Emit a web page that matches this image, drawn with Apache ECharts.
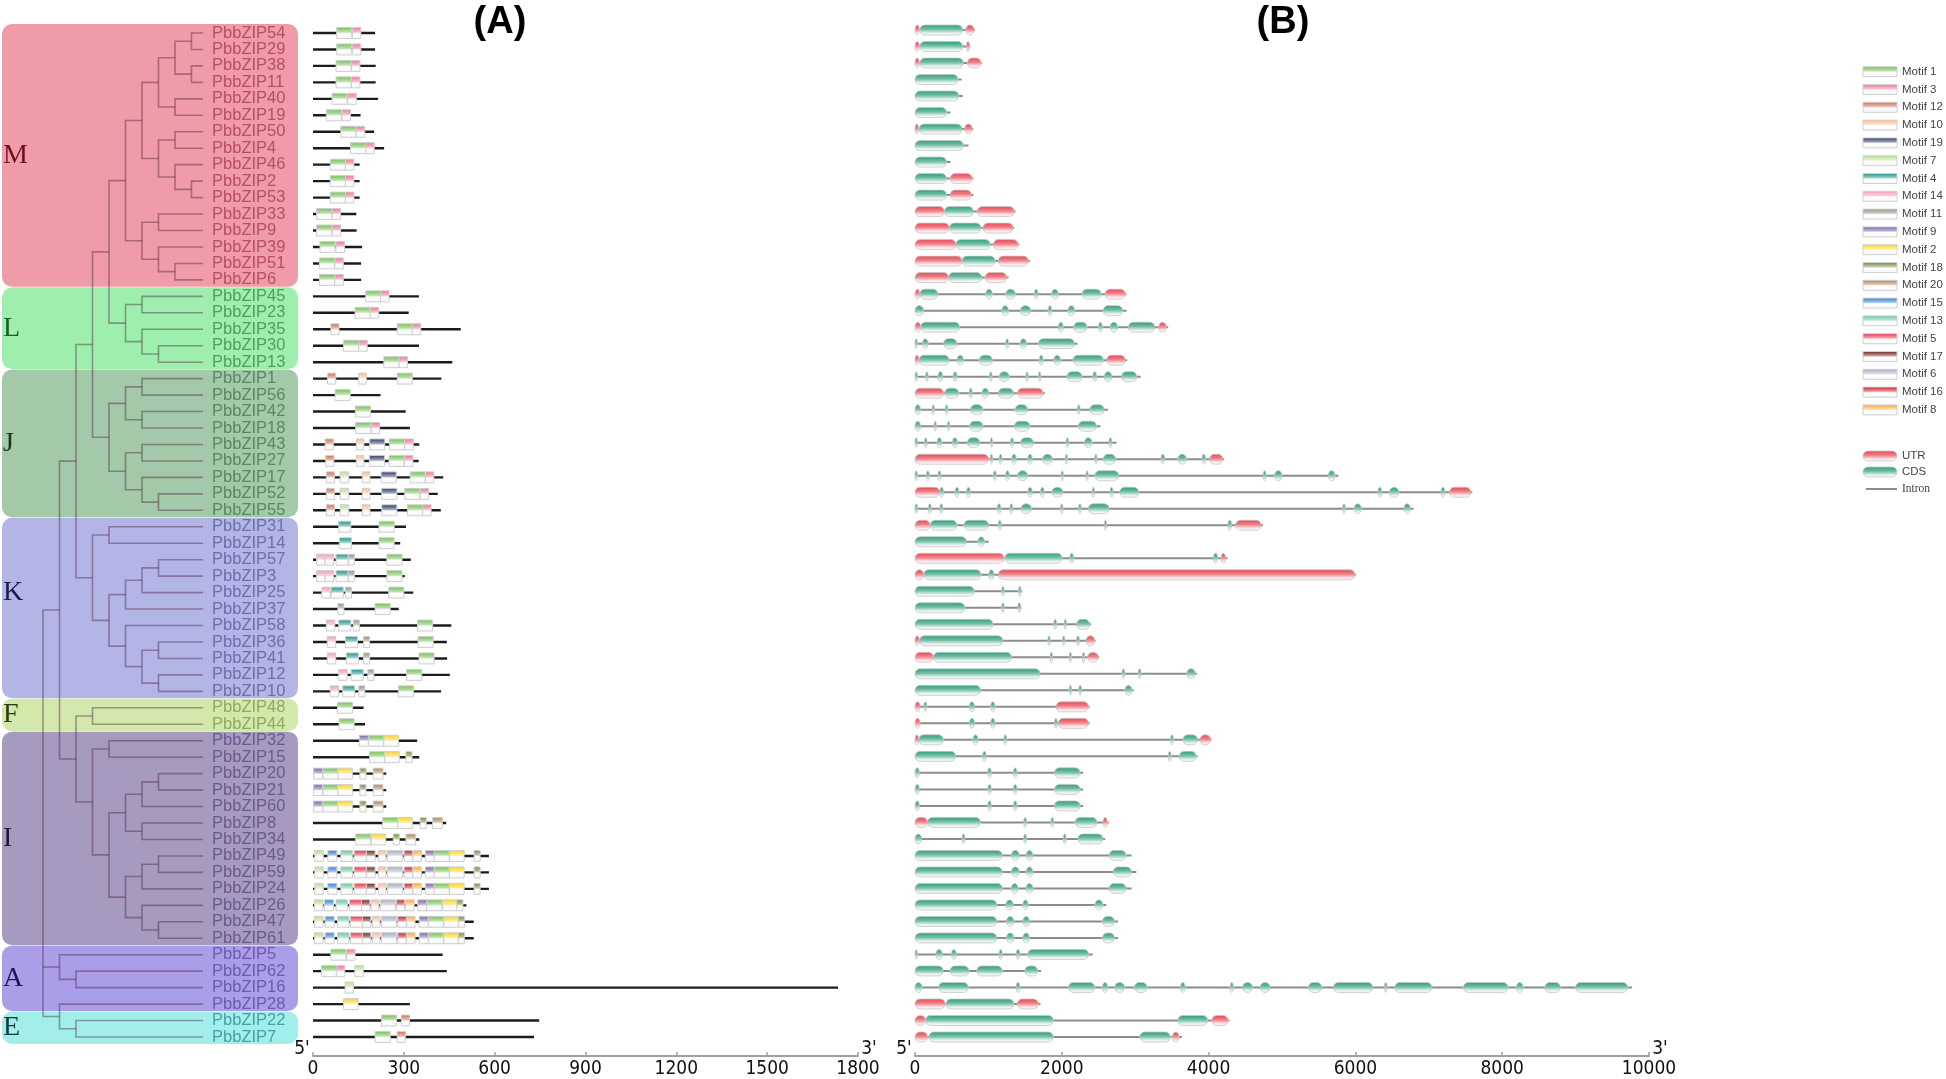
<!DOCTYPE html>
<html><head><meta charset="utf-8">
<script src="https://cdn.jsdelivr.net/npm/echarts@6/dist/echarts.min.js"></script>
<style>html,body{margin:0;padding:0;background:#fff}#c{width:1946px;height:1079px}</style>
</head><body><div id="c"></div>
<script>
// ================= DATA =================
const rowIds = [54,29,38,11,40,19,50,4,46,2,53,33,9,39,51,6, 45,23,35,30,13, 1,56,42,18,43,27,17,52,55,
  31,14,57,3,25,37,58,36,41,12,10, 48,44, 32,15,20,21,60,8,34,49,59,24,26,47,61, 5,62,16,28, 22,7];
const geneNames = rowIds.map(n => 'PbbZIP' + n);

const groupNames = ['M','L','J','K','F','I','A','E'];
const groupFirstRow = [0,16,21,30,41,43,56,60];
const groupLastRow  = [15,20,29,40,42,55,59,61];
const groupFill   = ['#f09ca8','#9eefae','#a4c9a8','#b3b5e7','#d3e8ab','#a69abf','#ab9ee8','#a1eeea'];
const groupLetter = ['#6b1020','#1c5c2c','#1c321f','#1c1c4a','#2f3d12','#1e1832','#1e1a58','#0f3a3a'];
const groupLabel  = ['#b64f60','#4e9e60','#5c8562','#6c6eaa','#8fa862','#6a5a8c','#6a5ab0','#46a2a2'];
const groupLetterShift = [0,0,0,-15,0,0,0,0];

// tree topology: [nodeDepthLevel, child, child, ...]; leaves = gene ids
const tree = [0,
 [1,
  [2,
   [3,
    [4,
     [5,
      [6,
       [7,[8,[9,54,29],[9,38,11]],[8,40,19]],
       [7,[8,50,4],[8,46,[9,2,53]]]
      ],
      [6,[7,33,9],[7,39,[8,51,6]]]
     ],
     [5,[6,45,23],[6,35,[7,30,13]]]
    ],
    [4,[5,[6,1,56],[6,42,18]],[5,[6,43,27],[6,17,[7,52,55]]]]
   ],
   [3,[4,31,14],[4,[5,[6,[7,57,3],25],37],[5,58,[6,[7,36,41],[7,12,10]]]]]
  ],
  [2,
   [3,48,44],
   [3,[4,32,15],[4,[5,[6,[7,20,21],60],[6,8,34]],[5,[6,[7,49,59],24],[6,26,[7,47,61]]]]]
  ]
 ],
 [1,5,[2,62,16]],
 [1,28,[2,22,7]]
];

// Panel A: protein lengths (aa) and motif hits [motif, start]
const proteinLength = [205,205,207,207,215,157,202,235,154,154,154,143,144,162,159,159,
  350,316,488,350,460, 424,223,306,320,351,349,430,412,422,
  307,288,323,303,331,283,457,442,443,452,423, 167,172,
  344,351,242,242,242,440,351,581,581,581,507,531,531, 428,442,1734,320, 747,730];
const motifLegend = [1,3,12,10,19,7,4,14,11,9,2,18,20,15,13,5,17,6,16,8];
const motifColor = {1:'#6cbf4c',3:'#f26d8e',12:'#d0694a',10:'#fbb98a',19:'#273560',7:'#b4e08c',4:'#12918a',
  14:'#f598b0',11:'#8a9080',9:'#7a5aa8',2:'#ffd21a',18:'#6b8a30',20:'#b08050',15:'#2a7ad8',13:'#5ec79a',
  5:'#f0283c',17:'#6a1a1a',6:'#a8a8c4',16:'#c81820',8:'#ffa830'};
const motifWidth = {1:50,2:48,3:28,4:40,5:40,6:50,7:28,8:28,9:30,10:25,11:20,12:27,13:38,14:28,15:30,16:28,17:28,18:20,19:50,20:32};
const motifI1 = [[7,6],[15,49],[13,92],[5,136],[17,177],[10,216],[6,246],[16,301],[8,330],[9,371],[1,400],[2,451],[18,532]];
const motifI2 = [[7,5],[15,40],[13,81],[5,124],[17,163],[10,196],[6,226],[16,280],[8,309],[9,351],[1,381],[2,432],[18,480]];
const motifHits = [
  [[1,78],[3,130]],[[1,78],[3,130]],[[1,76],[3,127]],[[1,76],[3,127]],[[1,63],[3,115]],[[1,44],[3,96]],
  [[1,92],[3,143]],[[1,124],[3,174]],[[1,57],[3,107]],[[1,57],[3,107]],[[1,57],[3,107]],[[1,12],[3,63]],
  [[1,12],[3,63]],[[1,23],[3,76]],[[1,21],[3,72]],[[1,21],[3,72]],
  [[1,174],[3,223]],[[1,139],[3,189]],[[12,59],[1,278],[3,328]],[[1,101],[3,151]],[[1,234],[3,284]],
  [[12,48],[10,151],[1,278]],[[1,73]],[[1,140]],[[1,141],[3,192]],
  [[12,40],[10,143],[19,187],[1,253],[3,303]],[[12,42],[10,143],[19,186],[1,251],[3,302]],
  [[12,44],[7,90],[10,163],[19,225],[1,321],[3,371]],[[12,44],[7,90],[10,163],[19,227],[1,303],[3,354]],
  [[12,44],[7,90],[10,163],[19,227],[1,312],[3,362]],
  [[4,85],[1,218]],[[4,87],[1,218]],[[14,12],[14,40],[4,76],[11,117],[1,244]],[[14,12],[14,40],[4,76],[11,117],[1,244]],
  [[14,29],[4,60],[11,107],[1,250]],[[11,82],[1,205]],[[14,44],[4,85],[11,133],[1,345]],
  [[14,47],[4,107],[11,167],[1,347]],[[14,47],[4,110],[11,167],[1,350]],[[14,85],[4,126],[11,181],[1,309]],
  [[14,57],[4,98],[11,151],[1,282]],
  [[1,81]],[[1,86]],
  [[9,153],[1,183],[2,234]],[[1,187],[2,237],[18,307]],
  [[9,2],[1,33],[2,82],[18,155],[20,199]],[[9,2],[1,33],[2,82],[18,155],[20,199]],[[9,2],[1,33],[2,82],[18,155],[20,199]],
  [[1,230],[2,280],[18,354],[20,395]],[[1,141],[2,192],[18,265],[20,307]],
  motifI1, motifI1, motifI1,
  [[7,5],[15,38],[13,76],[5,121],[17,160],[10,192],[6,222],[16,275],[8,306],[9,346],[1,376],[2,427],[18,475]],
  motifI2, motifI2,
  [[1,59],[3,111]],[[1,28],[3,77],[7,138]],[[7,106]],[[2,101]],
  [[1,226],[12,292]],[[1,205],[12,278]]
];

// Panel B: gene lengths (bp) and parts [type(0=UTR,1=CDS), start, end]
const geneLength = [816,754,910,634,650,483,795,728,483,795,795,1369,1353,1421,1567,1275,
  2881,2881,3449,2214,2891, 3074,1770,2630,2526,2745,4210,5769,7593,6791,
  4742,1004,4257,6009,1460,1450,2400,2460,2510,3840,2980, 2380,2380,
  4040,3850,2290,2290,2290,2640,2590,2950,3015,2950,2607,2765,2765, 2422,1718,9767,1709, 4284,3636];
const geneParts = [
  [[0,0,60],[1,66,650],[0,691,806]],
  [[0,0,60],[1,66,650],[0,700,744]],
  [[0,0,60],[1,66,660],[0,712,900]],
  [[1,0,587]],[[1,0,597]],[[1,0,430]],
  [[0,0,50],[1,55,639],[0,676,780]],
  [[1,0,660]],[[1,0,430]],
  [[1,0,430],[0,478,780]],[[1,0,430],[0,478,770]],
  [[0,0,400],[1,400,796],[0,848,1353]],
  [[0,0,467],[1,467,900],[0,926,1338]],
  [[0,0,556],[1,556,1025],[0,1066,1405]],
  [[0,0,640],[1,640,1093],[0,1134,1546]],
  [[0,0,457],[1,457,910],[0,952,1249]],
  [[0,0,66],[1,66,311],[1,962,1056],[1,1234,1369],[1,1625,1677],[1,1859,1953],[1,2276,2536],[0,2589,2865]],
  [[1,0,118],[1,1181,1275],[1,1432,1578],[1,1812,1864],[1,2083,2177],[1,2563,2829]],
  [[0,0,76],[1,76,608],[1,1953,2021],[1,2161,2344],[1,2500,2552],[1,2657,2761],[1,2907,3267],[0,3319,3423]],
  [[1,0,20],[1,102,180],[1,389,572],[1,1233,1275],[1,1432,1520],[1,1682,2172]],
  [[0,0,55],[1,55,467],[1,572,660],[1,874,1056],[1,1692,1745],[1,1890,1984],[1,2151,2568],[0,2610,2865]],
  [[1,0,24],[1,144,180],[1,311,379],[1,520,572],[1,1015,1051],[1,1145,1286],[1,1510,1536],[1,1682,1708],[1,2068,2276],[1,2422,2474],[1,2578,2683],[1,2813,3022]],
  [[0,0,389],[1,405,597],[1,738,780],[1,910,1004],[1,1135,1343],[0,1395,1745]],
  [[1,0,76],[1,232,259],[1,415,446],[1,754,926],[1,1364,1536],[1,2214,2250],[1,2380,2578]],
  [[1,0,76],[1,259,290],[1,441,467],[1,743,926],[1,1353,1567],[1,2224,2474]],
  [[1,0,14],[1,128,165],[1,300,363],[1,509,577],[1,712,884],[1,1025,1056],[1,1301,1343],[1,1437,1614],[1,2057,2094],[1,2307,2412],[1,2641,2683]],
  [[0,0,1004],[1,1025,1056],[1,1145,1187],[1,1317,1380],[1,1536,1598],[1,1734,1875],[1,2047,2078],[1,2448,2480],[1,2563,2735],[1,3350,3402],[1,3580,3699],[1,3908,3960],[0,4012,4195]],
  [[1,0,24],[1,155,196],[1,311,353],[1,1067,1109],[1,1233,1286],[1,1395,1536],[1,1989,2021],[1,2328,2360],[1,2448,2777],[1,4742,4784],[1,4898,5002],[1,5628,5722]],
  [[0,0,337],[1,337,389],[1,545,597],[1,702,754],[1,1536,1598],[1,1708,1760],[1,1864,2016],[1,2412,2448],[1,2657,2699],[1,2787,3048],[1,6306,6358],[1,6462,6593],[1,7166,7218],[0,7281,7573]],
  [[1,0,34],[1,181,222],[1,337,379],[1,1119,1171],[1,1291,1333],[1,1442,1588],[1,1984,2016],[1,2229,2266],[1,2360,2646],[1,5826,5863],[1,5982,6081],[1,6660,6749]],
  [[0,0,206],[1,206,572],[1,665,1004],[1,1135,1176],[1,2578,2604],[1,4262,4314],[0,4367,4716]],
  [[1,0,702],[1,858,947]],
  [[0,0,1213],[1,1223,2005],[1,2109,2161],[1,4064,4127],[0,4169,4231]],
  [[0,0,118],[1,118,900],[1,1004,1077],[0,1135,5993]],
  [[1,0,808],[1,1180,1215],[1,1410,1445]],
  [[1,0,680],[1,1180,1215],[1,1400,1440]],
  [[1,0,1063],[1,1890,1930],[1,2030,2060],[1,2200,2380]],
  [[0,0,60],[1,60,1197],[1,1810,1840],[1,2010,2040],[1,2200,2240],[0,2330,2449]],
  [[0,0,250],[1,250,1316],[1,1840,1875],[1,2100,2130],[1,2280,2310],[0,2350,2500]],
  [[1,0,1705],[1,2820,2860],[1,3040,3080],[1,3700,3820]],
  [[1,0,893],[1,2100,2130],[1,2230,2270],[1,2860,2957]],
  [[0,0,70],[1,120,160],[1,740,810],[1,1030,1090],[0,1920,2365]],
  [[0,0,70],[1,740,810],[1,1030,1090],[1,1900,1940],[0,1950,2365]],
  [[0,0,50],[1,50,386],[1,790,860],[1,1210,1250],[1,3480,3520],[1,3650,3850],[0,3880,4030]],
  [[1,0,555],[1,920,970],[1,3450,3490],[1,3600,3830]],
  [[1,0,60],[1,990,1040],[1,1340,1390],[1,1900,2250]],
  [[1,0,60],[1,990,1040],[1,1340,1390],[1,1900,2250]],
  [[1,0,60],[1,990,1040],[1,1340,1390],[1,1900,2250]],
  [[0,0,170],[1,170,893],[1,1480,1520],[1,1850,1890],[1,2180,2480],[0,2560,2620]],
  [[1,0,90],[1,640,680],[1,1480,1520],[1,2020,2060],[1,2220,2560]],
  [[1,0,1190],[1,1311,1422],[1,1514,1607],[1,2644,2876]],
  [[1,0,1190],[1,1311,1422],[1,1514,1607],[1,2700,2950]],
  [[1,0,1190],[1,1311,1404],[1,1514,1607],[1,2644,2876]],
  [[1,0,1116],[1,1237,1339],[1,1468,1542],[1,2450,2561]],
  [[1,0,1116],[1,1246,1348],[1,1468,1561],[1,2552,2719]],
  [[1,0,1116],[1,1246,1348],[1,1468,1561],[1,2552,2719]],
  [[1,0,20],[1,283,375],[1,496,561],[1,1144,1190],[1,1376,1431],[1,1533,2367]],
  [[1,0,385],[1,477,736],[1,838,1190],[1,1496,1672]],
  [[1,0,98],[1,320,727],[1,1376,1431],[1,2089,2450],[1,2552,2626],[1,2719,2857],[1,2987,3163],[1,3617,3682],[1,4293,4339],[1,4460,4599],[1,4700,4839],[1,5358,5543],[1,5701,6238],[1,6395,6433],[1,6535,7044],[1,7470,8081],[1,8192,8285],[1,8581,8794],[1,8998,9711]],
  [[0,0,412],[1,422,1348],[0,1394,1681]],
  [[0,0,144],[1,144,1885],[1,3580,3988],[0,4043,4265]],
  [[0,0,172],[1,190,1885],[1,3061,3478],[0,3506,3599]]
];
const partNames = ['UTR','CDS','Intron'];
const partColor = ['#e8424e','#2a9c78'];
const axisATicks = [0,1800,300];
const axisBTicks = [0,10000,2000];

// ================= LAYOUT =================
const AXIS_Y = 1056;
const ROW0 = 33, ROWN = 1037;
const ROW0_B = 30, ROWN_B = 1037;
const LEAF_LEVEL = 9.7;
const TREE_L = 2, TREE_W = 296, LEVEL_PX = 16.5, LEVEL0_PX = 43;
const TREE_MIN = -(LEVEL0_PX - TREE_L) / LEVEL_PX;
const TREE_MAX = TREE_MIN + TREE_W / LEVEL_PX;
function vert(r0, rN) { const rh = (rN - r0) / 61; return {top: r0 - 0.5 * rh, height: AXIS_Y - (r0 - 0.5 * rh), max: (AXIS_Y - r0) / rh}; }
const VA = vert(ROW0, ROWN), VB = vert(ROW0_B, ROWN_B);

function mix(hex, t) {
  const r = parseInt(hex.slice(1,3),16), g = parseInt(hex.slice(3,5),16), b = parseInt(hex.slice(5,7),16);
  const f = v => Math.round(v + (255 - v) * t);
  return 'rgb(' + f(r) + ',' + f(g) + ',' + f(b) + ')';
}
function boxGrad(c) {
  return new echarts.graphic.LinearGradient(0,0,0,1,[
    {offset:0,color:c},{offset:0.42,color:mix(c,0.55)},{offset:0.56,color:'#ffffff'},{offset:1,color:'#f6f6f6'}]);
}
function capGrad(c) {
  return new echarts.graphic.LinearGradient(0,0,0,1,[
    {offset:0,color:c},{offset:0.45,color:mix(c,0.35)},{offset:0.8,color:mix(c,0.9)},{offset:1,color:'#f4f4f4'}]);
}

// tree -> bracket polylines
const bracketData = [];
const leafData = [];
function groupOf(row){ for (let g=0; g<groupFirstRow.length; g++) if (row>=groupFirstRow[g] && row<=groupLastRow[g]) return g; return 0; }
function layout(node) {
  if (typeof node === 'number') {
    const row = rowIds.indexOf(node);
    leafData.push([LEAF_LEVEL, row, groupOf(row)]);
    return {x: LEAF_LEVEL, y: row};
  }
  const lv = node[0];
  const kids = node.slice(1).map(layout);
  const a = kids[0], b = kids[kids.length-1];
  bracketData.push([a.x, a.y, lv, a.y, lv, b.y, b.x, b.y]);
  for (let i = 1; i < kids.length - 1; i++) bracketData.push([lv, kids[i].y, lv, kids[i].y, lv, kids[i].y, kids[i].x, kids[i].y]);
  return {x: lv, y: (a.y + b.y) / 2};
}
layout(tree);

const groupData = groupNames.map((n, i) => [groupFirstRow[i], groupLastRow[i], i]);
const proteinData = proteinLength.map((l, i) => [i, 0, l]);
const motifData = [];
motifHits.forEach((hits, row) => hits.forEach(h => motifData.push([row, h[1], h[1] + motifWidth[h[0]], h[0]])));
const geneLineData = geneLength.map((l, i) => [i, 0, l]);
const partData = [];
geneParts.forEach((parts, row) => parts.forEach(p => partData.push([row, p[1], p[2], p[0]])));

const FONT = '"Liberation Sans", Arial, sans-serif';
const NARROW = '"Liberation Sans Narrow", "Arial Narrow", "DejaVu Sans Condensed", sans-serif';

// ================= CHART =================
const chart = echarts.init(document.getElementById('c'), null, {renderer: 'canvas'});

function xAxisCfg(idx, t) {
  return {gridIndex: idx, type: 'value', position: 'bottom', min: t[0], max: t[1], interval: t[2],
    axisLine: {show: true, onZero: false, lineStyle: {color: '#a0a0a0', width: 2}},
    axisTick: {show: true, inside: true, length: 4, lineStyle: {color: '#a0a0a0', width: 1.5}},
    axisLabel: {color: '#111', fontSize: 19, fontFamily: NARROW, margin: 4, formatter: v => String(v)},
    splitLine: {show: false}};
}
function yAxisCfg(idx, v) { return {gridIndex: idx, type: 'value', inverse: true, min: -0.5, max: v.max, show: false}; }

const legendGraphics = [];
motifLegend.forEach((m, i) => {
  const y = 71.7 + i * 17.8;
  legendGraphics.push({type: 'rect', shape: {x: 1863, y: y - 5, width: 34, height: 10},
    style: {fill: boxGrad(motifColor[m]), stroke: '#d0d0d0', lineWidth: 1}});
  legendGraphics.push({type: 'text', x: 1902, y: y, style: {text: 'Motif ' + m, fill: '#444', font: '11.5px ' + FONT, verticalAlign: 'middle'}});
});
[0, 1].forEach(t => {
  const y = 456 + t * 16;
  legendGraphics.push({type: 'rect', shape: {x: 1863, y: y - 5, width: 34, height: 10, r: 5},
    style: {fill: capGrad(partColor[t]), stroke: '#c8c8c8', lineWidth: 0.8}});
  legendGraphics.push({type: 'text', x: 1902, y: y, style: {text: partNames[t], fill: '#444', font: '11.5px ' + FONT, verticalAlign: 'middle'}});
});
legendGraphics.push({type: 'line', shape: {x1: 1866, y1: 489, x2: 1897, y2: 489}, style: {stroke: '#8c8c8c', lineWidth: 2}});
legendGraphics.push({type: 'text', x: 1902, y: 489, style: {text: partNames[2], fill: '#444', font: '11.5px "Liberation Serif", "Times New Roman", serif', verticalAlign: 'middle'}});

const endLabels = [];
function primeLabels(x0, x1) {
  endLabels.push({type: 'text', x: x0 - 11, y: 1049, style: {text: "5'", fill: '#111', font: '19px ' + NARROW, align: 'center', verticalAlign: 'middle'}});
  endLabels.push({type: 'text', x: x1 + 11, y: 1049, style: {text: "3'", fill: '#111', font: '19px ' + NARROW, align: 'center', verticalAlign: 'middle'}});
}
const A_LEFT = 313, A_W = 545, B_LEFT = 915, B_W = 734;
primeLabels(A_LEFT, A_LEFT + A_W);
primeLabels(B_LEFT, B_LEFT + B_W);

const option = {
  animation: false,
  backgroundColor: '#fff',
  grid: [
    {left: TREE_L, width: TREE_W, top: VA.top, height: VA.height},
    {left: A_LEFT, width: A_W, top: VA.top, height: VA.height},
    {left: B_LEFT, width: B_W, top: VB.top, height: VB.height}
  ],
  xAxis: [
    {gridIndex: 0, type: 'value', min: TREE_MIN, max: TREE_MAX, show: false},
    xAxisCfg(1, axisATicks),
    xAxisCfg(2, axisBTicks)
  ],
  yAxis: [yAxisCfg(0, VA), yAxisCfg(1, VA), yAxisCfg(2, VB)],
  graphic: [
    {type: 'text', x: 500, y: 23, style: {text: '(A)', fill: '#000', font: 'bold 38px ' + FONT, align: 'center', verticalAlign: 'middle'}},
    {type: 'text', x: 1283, y: 23, style: {text: '(B)', fill: '#000', font: 'bold 38px ' + FONT, align: 'center', verticalAlign: 'middle'}}
  ].concat(legendGraphics, endLabels),
  series: [
    { // clade boxes
      type: 'custom', xAxisIndex: 0, yAxisIndex: 0, clip: false, data: groupData, z: 1,
      renderItem: function (params, api) {
        const cs = params.coordSys;
        const gi = api.value(2);
        const yt = api.coord([0, api.value(0) - 0.55])[1];
        const yb = api.coord([0, api.value(1) + 0.42])[1];
        return {type: 'group', children: [
          {type: 'rect', shape: {x: cs.x, y: yt, width: cs.width, height: yb - yt, r: 10}, style: {fill: groupFill[gi]}},
          {type: 'text', x: cs.x + 1, y: (yt + yb) / 2 + groupLetterShift[gi], style: {text: groupNames[gi], fill: groupLetter[gi],
            font: '28px "Liberation Serif", "Times New Roman", serif', verticalAlign: 'middle'}}
        ]};
      }
    },
    { // tree branches
      type: 'custom', xAxisIndex: 0, yAxisIndex: 0, clip: false, data: bracketData, z: 2,
      renderItem: function (params, api) {
        const pts = [];
        for (let k = 0; k < 4; k++) pts.push(api.coord([api.value(2*k), api.value(2*k+1)]));
        return {type: 'polyline', shape: {points: pts}, style: {stroke: 'rgba(75,30,60,0.42)', lineWidth: 1.6, fill: null}};
      }
    },
    { // leaf labels
      type: 'custom', xAxisIndex: 0, yAxisIndex: 0, clip: false, data: leafData, z: 3,
      renderItem: function (params, api) {
        const p = api.coord([api.value(0), api.value(1)]);
        return {type: 'text', x: p[0] + 9, y: p[1], style: {text: geneNames[api.value(1)], fill: groupLabel[api.value(2)],
          font: '16.5px ' + FONT, verticalAlign: 'middle'}};
      }
    },
    { // protein backbone
      type: 'custom', xAxisIndex: 1, yAxisIndex: 1, clip: false, data: proteinData, encode: {x: [1, 2], y: 0}, z: 2,
      renderItem: function (params, api) {
        const a = api.coord([api.value(1), api.value(0)]), b = api.coord([api.value(2), api.value(0)]);
        return {type: 'line', shape: {x1: a[0], y1: a[1], x2: b[0], y2: b[1]}, style: {stroke: '#1c1c1c', lineWidth: 2.4}};
      }
    },
    { // motifs
      type: 'custom', xAxisIndex: 1, yAxisIndex: 1, clip: false, data: motifData, encode: {x: [1, 2], y: 0}, z: 3,
      renderItem: function (params, api) {
        const a = api.coord([api.value(1), api.value(0)]), b = api.coord([api.value(2), api.value(0)]);
        return {type: 'rect', shape: {x: a[0], y: a[1] - 5.5, width: b[0] - a[0], height: 11},
          style: {fill: boxGrad(motifColor[api.value(3)]), stroke: '#cfcfcf', lineWidth: 1}};
      }
    },
    { // introns
      type: 'custom', xAxisIndex: 2, yAxisIndex: 2, clip: false, data: geneLineData, encode: {x: [1, 2], y: 0}, z: 2,
      renderItem: function (params, api) {
        const a = api.coord([api.value(1), api.value(0)]), b = api.coord([api.value(2), api.value(0)]);
        return {type: 'line', shape: {x1: a[0], y1: a[1], x2: b[0], y2: b[1]}, style: {stroke: '#8c8c8c', lineWidth: 2}};
      }
    },
    { // UTR / CDS
      type: 'custom', xAxisIndex: 2, yAxisIndex: 2, clip: false, data: partData, encode: {x: [1, 2], y: 0}, z: 3,
      renderItem: function (params, api) {
        const a = api.coord([api.value(1), api.value(0)]), b = api.coord([api.value(2), api.value(0)]);
        const h = 10, w = Math.max(b[0] - a[0], 2.4);
        const fill = capGrad(partColor[api.value(3)]);
        if (w < h * 1.2) {
          return {type: 'ellipse', shape: {cx: a[0] + w / 2, cy: a[1], rx: w / 2, ry: h / 2},
            style: {fill: fill, stroke: '#c8c8c8', lineWidth: 0.8}};
        }
        return {type: 'rect', shape: {x: a[0], y: a[1] - h / 2, width: w, height: h, r: h / 2},
          style: {fill: fill, stroke: '#c8c8c8', lineWidth: 0.8}};
      }
    }
  ]
};
chart.setOption(option);
</script>
</body></html>
